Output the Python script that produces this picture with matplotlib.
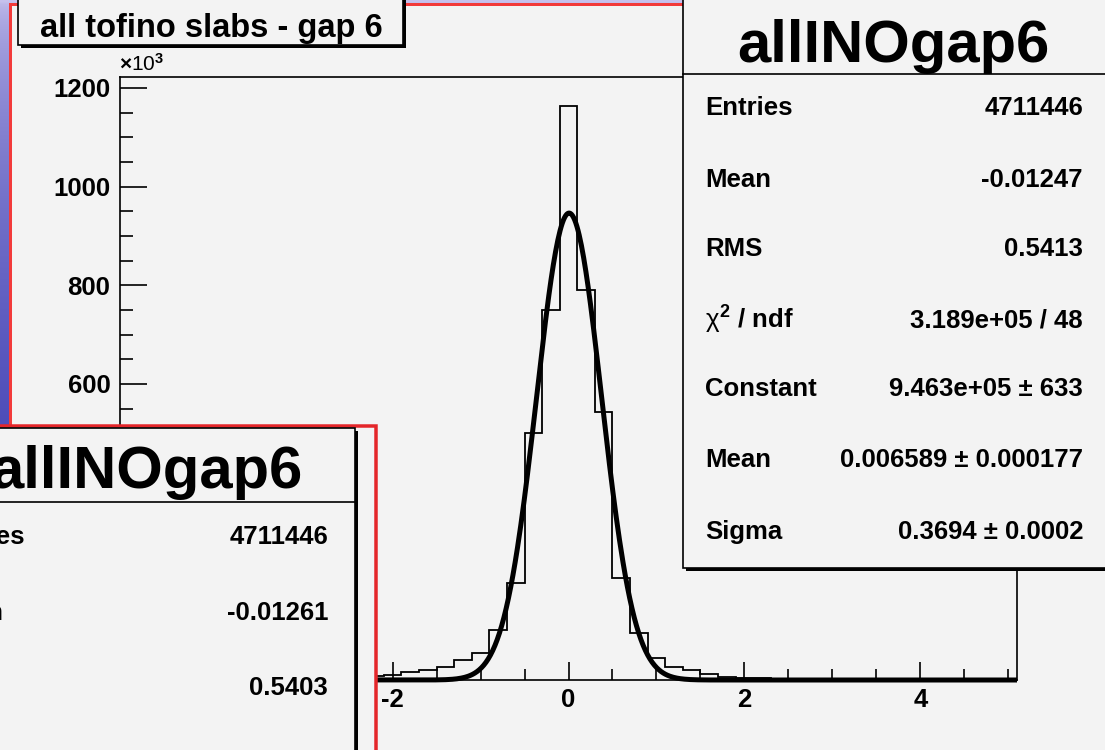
import numpy as np
import matplotlib
matplotlib.use("Agg")
import matplotlib.pyplot as plt
from matplotlib.patches import Rectangle
from matplotlib.ticker import MultipleLocator

plt.rcParams["font.family"] = ["Liberation Sans", "DejaVu Sans"]
plt.rcParams["mathtext.fontset"] = "custom"
plt.rcParams["mathtext.rm"] = "Liberation Sans:bold"
plt.rcParams["mathtext.it"] = "Liberation Sans"
plt.rcParams["mathtext.bf"] = "Liberation Sans:bold"

TITLE = "all tofino slabs - gap 6"
HIST_NAME = "allINOgap6"

BIN_LOW = -5.1
BIN_WIDTH = 0.2
# entries per bin in units of 10^3 (bins -5.1 .. 5.1)
COUNTS = [
    1.0, 1.1, 1.2, 1.4, 1.6, 1.8, 2.0, 2.3, 2.7, 3.1, 3.6, 4.2, 5.0, 6.0, 8.0,
    10, 16, 20, 27, 41, 55, 101, 197, 501, 750, 1164, 791, 544, 207, 95, 45,
    27, 20, 12, 6, 5, 4, 3,
    2.5, 2.2, 2.0, 1.8, 1.6, 1.5, 1.4, 1.3, 1.2, 1.1, 1.0, 1.0, 0.9,
]

# gaussian fit parameters (constant in 10^3)
FIT_CONSTANT = 946.3
FIT_MEAN = 0.006589
FIT_SIGMA = 0.3694

STAT_LABELS = ["Entries", "Mean", "RMS", r"$\chi^{2}$ / ndf", "Constant", "Mean", "Sigma"]
STAT_VALUES = ["4711446", "-0.01247", "0.5413", "3.189e+05 / 48",
               "9.463e+05 ± 633", "0.006589 ± 0.000177", "0.3694 ± 0.0002"]
LOWER_LABELS = ["Entries", "Mean", "RMS"]
LOWER_VALUES = ["4711446", "-0.01261", "0.5403"]

W, H = 1105, 750
GRAY = "#f3f3f3"
RED = "#f23a3a"
PX = 72 / 100  # points per pixel

fig = plt.figure(figsize=(W / 100, H / 100), dpi=100)

# background: blue slide gradient + canvas with red frame
bg = fig.add_axes([0, 0, 1, 1], zorder=-1)
bg.set_xlim(0, W)
bg.set_ylim(H, 0)
bg.axis("off")
t = np.linspace(0, 1, 256)[:, None]
top = np.array([0.78, 0.76, 0.93])
bot = np.array([0.15, 0.15, 0.66])
grad = top + (bot - top) * np.sqrt(t)[..., None]
grad = np.repeat(grad, 4, axis=1)
bg.imshow(grad, extent=(0, W, H, 0), aspect="auto", interpolation="bilinear")
bg.add_patch(Rectangle((10, 3.5), W + 50, H + 50, fc=GRAY, ec=RED, lw=3 * PX))

# main histogram axes
ax = fig.add_axes([120 / W, 1 - 680 / H, (1017 - 120) / W, (680 - 77) / H], zorder=1)
ax.set_facecolor(GRAY)
edges = BIN_LOW + BIN_WIDTH * np.arange(len(COUNTS) + 1)
ax.stairs(COUNTS, edges, color="black", lw=1.3)
xs = np.linspace(edges[0], edges[-1], 800)
ax.plot(xs, FIT_CONSTANT * np.exp(-0.5 * ((xs - FIT_MEAN) / FIT_SIGMA) ** 2),
        color="black", lw=3.6, clip_on=False, solid_capstyle="butt")
ax.set_xlim(edges[0], edges[-1])
ax.set_ylim(0, 1222)
for s in ax.spines.values():
    s.set_linewidth(1.2)
ax.xaxis.set_major_locator(MultipleLocator(2))
ax.xaxis.set_minor_locator(MultipleLocator(0.5))
ax.yaxis.set_major_locator(MultipleLocator(200))
ax.yaxis.set_minor_locator(MultipleLocator(50))
ax.tick_params(axis="x", which="major", direction="in", length=18 * PX, width=1.2, pad=6)
ax.tick_params(axis="x", which="minor", direction="in", length=11 * PX, width=1.2)
ax.tick_params(axis="y", which="major", direction="in", length=27 * PX, width=1.2, pad=7)
ax.tick_params(axis="y", which="minor", direction="in", length=13 * PX, width=1.2)
# labels hidden behind the lower-left canvas are left blank
ax.set_xticks(ax.get_xticks())
ax.set_xticklabels([f"{v:g}" if v > -3 else "" for v in ax.get_xticks()])
ax.set_yticks(ax.get_yticks())
ax.set_yticklabels([f"{v:g}" if v >= 600 else "" for v in ax.get_yticks()])
ax.set_xlim(edges[0], edges[-1])
ax.set_ylim(0, 1222)
for lab in ax.get_xticklabels() + ax.get_yticklabels():
    lab.set_fontsize(18.5)
    lab.set_fontweight("bold")

# overlay in pixel coordinates for ROOT boxes
ov = fig.add_axes([0, 0, 1, 1], zorder=5)
ov.set_xlim(0, W)
ov.set_ylim(H, 0)
ov.axis("off")

ov.text(119, 75, r"$\times$10$^{3}$", fontsize=15, ha="left", va="bottom")

# title box
ov.add_patch(Rectangle((21, -5), 385, 53, fc="black", lw=0))
ov.add_patch(Rectangle((18, -5), 385, 50, fc=GRAY, ec="black", lw=1.2))
ov.text(211, 28, TITLE, fontsize=23.5, fontweight="bold", ha="center", va="center")

# upper-right stats box
ov.add_patch(Rectangle((686, -5), 440, 576, fc="black", lw=0))
ov.add_patch(Rectangle((683, -5), 440, 573, fc=GRAY, ec="black", lw=1.2))
ov.plot([683, 1123], [74, 74], color="black", lw=1.2)
ov.text(893, 62, HIST_NAME, fontsize=43, fontweight="bold", ha="center", va="baseline")
row_y = [108, 180, 249, 320, 389, 460, 532]
for lab, val, y in zip(STAT_LABELS, STAT_VALUES, row_y):
    ov.text(705, y, lab, fontsize=18.5, fontweight="bold", ha="left", va="center")
    ov.text(1083, y, val, fontsize=18.5, fontweight="bold", ha="right", va="center")

# lower-left overlapping canvas
ov.add_patch(Rectangle((-10, 425.5), 385.5, 400, fc=GRAY, ec="#e4262a", lw=3.5 * PX, zorder=10))
ov.add_patch(Rectangle((-82, 431), 440, 400, fc="black", lw=0, zorder=11))
ov.add_patch(Rectangle((-85, 428), 440, 400, fc=GRAY, ec="black", lw=1.2, zorder=12))
ov.plot([-85, 355], [502, 502], color="black", lw=1.2, zorder=13)
ov.text(303, 488, HIST_NAME, fontsize=43, fontweight="bold", ha="right", va="baseline", zorder=13)
low_y = [537, 613, 688]
for lab, val, y in zip(LOWER_LABELS, LOWER_VALUES, low_y):
    ov.text(-63, y, lab, fontsize=18.5, fontweight="bold", ha="left", va="center", zorder=13)
    ov.text(328, y, val, fontsize=18.5, fontweight="bold", ha="right", va="center", zorder=13)

fig.savefig("out.png", dpi=100)
